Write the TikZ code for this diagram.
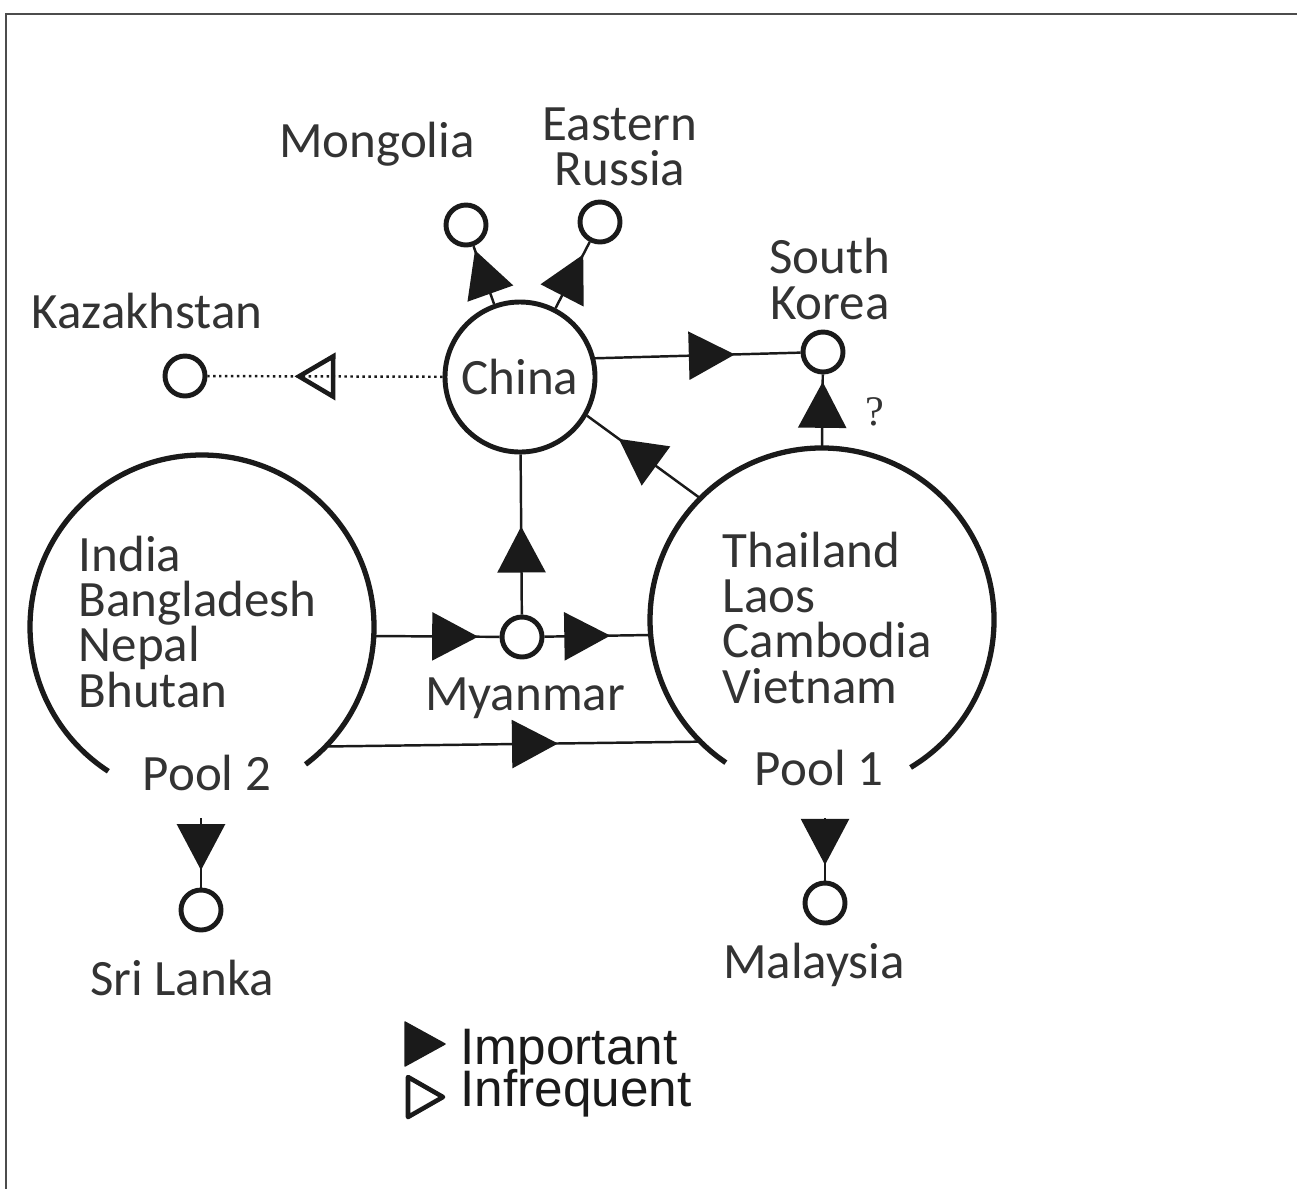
\documentclass[tikz,border=0pt]{standalone}
\usepackage{fontspec}
\setmainfont{Carlito}
\newfontfamily\legendfont{Liberation Sans}
\newfontfamily\qfont{Liberation Serif}
\usetikzlibrary{arrows.meta,decorations.markings,positioning}
\definecolor{linec}{HTML}{1A1A1A}
\definecolor{textc}{HTML}{333333}
\newcommand\labelsize{\fontsize{14.5}{12.9}\selectfont\lineskiplimit=-6pt}
\newcommand\legendsize{\legendfont\fontsize{14.6}{13}\selectfont}
\tikzset{
  spot/.style={circle,draw=linec,line width=1.4pt,minimum size=4mm,inner sep=0pt},
  hub/.style={circle,draw=linec,line width=1.4pt,minimum size=15mm,inner sep=0pt},
  pool/.style={circle,minimum size=34.4mm,inner sep=0pt,outer sep=0pt},
  rim/.style={draw=linec,line width=1.5pt},
  link/.style={draw=linec,line width=0.7pt},
  members/.style={anchor=north west,align=left,inner sep=0pt},
  legend/.style={anchor=base west,inner sep=0pt,text=linec,font=\legendsize},
  % filled head part way along a connector
  flow/.style={postaction={decorate,decoration={markings,
      mark=at position #1 with {\arrow{Triangle[length=4.6mm,width=4.8mm]}}}}},
  % open head on a dotted connector
  rare/.style={densely dotted,postaction={decorate,decoration={markings,
      mark=at position #1 with {\arrow{Triangle[open,length=4.1mm,width=4.7mm,line width=1.3pt]}}}}}
}
\begin{document}
\begin{tikzpicture}[every node/.style={text=textc,font=\labelsize}]
  \useasboundingbox (0,0) rectangle (12.97,-11.89);
  % frame, only top and left edges show
  \draw[gray!60!black,line width=0.8pt] (12.97,-0.14) -- (0.06,-0.14) -- (0.06,-11.89);

  %% places
  \node[hub] (china) at (5.20,-3.77) {China};
  \node[spot] (mongolia) at (4.66,-2.25) {};
  \node[spot] (erussia) at (6.00,-2.22) {};
  \node[spot] (kazakh) at (1.85,-3.76) {};
  \node[spot] (skorea) at (8.23,-3.52) {};
  \node[spot] (myanmar) at (5.22,-6.37) {};
  \node[spot] (srilanka) at (2.01,-9.10) {};
  \node[spot] (malaysia) at (8.25,-9.03) {};
  \node[pool] (pool1) at (8.22,-6.20) {};
  \node[pool] (pool2) at (2.02,-6.27) {};
  % the two pools are open at the bottom
  \draw[rim] (pool1.-59) arc[start angle=-59,end angle=236,radius=1.72];
  \draw[rim] (pool2.-53) arc[start angle=-53,end angle=237,radius=1.72];

  %% labels
  \node[anchor=base] (mongolialbl) at (3.77,-1.57) {Mongolia};
  \node[align=center] (erussialbl) at (6.20,-1.47) {Eastern\\Russia};
  \node[align=center] (skorealbl) at (8.30,-2.79) {South\\Korea};
  \node[anchor=base] (kazakhlbl) at (1.47,-3.28) {Kazakhstan};
  \node[anchor=base] (myanmarlbl) at (5.25,-7.10) {Myanmar};
  \node[members] (pool1txt) at (7.22,-5.31) {Thailand\\Laos\\Cambodia\\Vietnam};
  \node[members] (pool2txt) at (0.78,-5.35) {India\\Bangladesh\\Nepal\\Bhutan};
  \node[anchor=base] (pool1lbl) at (8.19,-7.85) {Pool 1};
  \node[anchor=base] (pool2lbl) at (2.07,-7.90) {Pool 2};
  \node[anchor=base] (srilankalbl) at (1.82,-9.95) {Sri Lanka};
  \node[anchor=base] (malaysialbl) at (8.14,-9.78) {Malaysia};
  \node[font=\qfont\fontsize{12}{14}\selectfont] (query) at (8.75,-4.12) {?};

  %% flows
  \draw[link,flow=0.93] (china) -- (mongolia);
  \draw[link,flow=0.81] (china) -- (erussia);
  \draw[link,rare=0.63] (china) -- (kazakh);
  \draw[link,flow=0.68] (china.14) -- (skorea);
  \draw[link,flow=0.90] (pool1.north) -- (skorea);
  \draw[link,flow=0.72] (pool1.135) -- (china.-30);
  \draw[link,flow=0.55] (myanmar) -- (china);
  \draw[link,flow=0.83] (pool2.-3) -- (myanmar);
  \draw[link,flow=0.62] (myanmar) -- (pool1.185);
  \draw[link,flow=0.62] (pool2.-44) -- (pool1.225);
  \coordinate (pool2out) at (2.01,-8.18);
  \coordinate (pool1out) at (8.25,-8.18);
  \draw[link,flow=0.75] (pool2out) -- (srilanka);
  \draw[link,flow=0.75] (pool1out) -- (malaysia);

  %% legend
  \node[legend] (important) at (4.60,-10.64) {Important};
  \node[legend] (infrequent) at (4.60,-11.06) {Infrequent};
  \draw[fill=linec,draw=linec,line join=round] (4.05,-10.22) -- (4.45,-10.44) -- (4.05,-10.66) -- cycle;
  \draw[draw=linec,line width=1.3pt,line join=round] (4.08,-10.77) -- (4.43,-10.97) -- (4.08,-11.17) -- cycle;
\end{tikzpicture}
\end{document}
